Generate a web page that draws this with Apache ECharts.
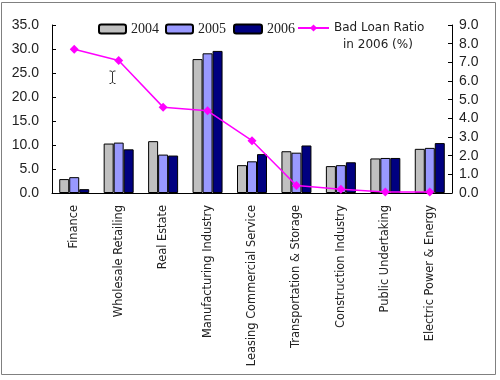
<!DOCTYPE html>
<html><head><meta charset="utf-8">
<script src="https://cdn.jsdelivr.net/npm/echarts@6/dist/echarts.min.js"></script>
<style>html,body{margin:0;padding:0;background:#fff}#c{width:500px;height:380px}</style>
</head><body><div id="c"></div>
<script>
var categories = ['Finance','Wholesale Retailing','Real Estate','Manufacturing Industry','Leasing Commercial Service','Transportation & Storage','Construction Industry','Public Undertaking','Electric Power & Energy'];
var values2004 = [2.9, 10.3, 10.8, 27.9, 5.8, 8.7, 5.6, 7.2, 9.2];
var values2005 = [3.3, 10.5, 8.0, 29.1, 6.6, 8.4, 5.8, 7.3, 9.4];
var values2006 = [0.8, 9.1, 7.8, 29.6, 8.1, 9.9, 6.4, 7.3, 10.4];
var badLoanRatio = [7.7, 7.1, 4.6, 4.4, 2.8, 0.4, 0.2, 0.05, 0.05];
var leftTicks = {min: 0, max: 35, interval: 5};
var rightTicks = {min: 0, max: 9, interval: 1};

var chart = echarts.init(document.getElementById('c'), null, {renderer: 'canvas'});
var sans = 'Liberation Sans';
function barSeries(name, data, color) {
  return {name: name, type: 'bar', data: data, barWidth: 10, barGap: '0%',
    itemStyle: {color: color, borderColor: '#000', borderWidth: 1}, z: 2};
}
var yearLegendText = {fontFamily: 'Liberation Serif', fontSize: 14, color: '#222'};
chart.setOption({
  animation: false,
  backgroundColor: '#fff',
  grid: {left: 52, right: 48, top: 25, bottom: 187, containLabel: false},
  legend: [
    {data: ['2004'], left: 98, top: 22, itemWidth: 27, itemHeight: 9, itemGap: 0, textStyle: yearLegendText, selectedMode: false, padding: 0},
    {data: ['2005'], left: 165, top: 22, itemWidth: 27, itemHeight: 9, textStyle: yearLegendText, selectedMode: false, padding: 0},
    {data: ['2006'], left: 233, top: 22, itemWidth: 28, itemHeight: 9, textStyle: yearLegendText, selectedMode: false, padding: 0},
    {data: ['Bad Loan Ratio'], left: 297, top: 22, itemWidth: 31, itemHeight: 9, textStyle: {fontFamily: 'DejaVu Sans', fontSize: 12, color: '#222'}, selectedMode: false, padding: 0}
  ],
  xAxis: {
    type: 'category', data: categories, boundaryGap: true,
    axisLine: {lineStyle: {color: '#000', width: 1}},
    axisTick: {inside: true, length: 4, lineStyle: {color: '#000'}},
    axisLabel: {rotate: 90, interval: 0, margin: 12, fontFamily: 'DejaVu Sans', fontSize: 11.4, color: '#222'}
  },
  yAxis: [
    {type: 'value', min: leftTicks.min, max: leftTicks.max, interval: leftTicks.interval,
      axisLine: {show: true, lineStyle: {color: '#000'}},
      axisTick: {show: true, inside: true, length: 4, lineStyle: {color: '#000'}},
      splitLine: {show: false},
      axisLabel: {margin: 13, fontFamily: sans, fontSize: 14, color: '#222', formatter: function(v){return v.toFixed(1);}}},
    {type: 'value', min: rightTicks.min, max: rightTicks.max, interval: rightTicks.interval, position: 'right',
      axisLine: {show: true, lineStyle: {color: '#000'}},
      axisTick: {show: true, inside: true, length: 4, lineStyle: {color: '#000'}},
      splitLine: {show: false},
      axisLabel: {margin: 7, fontFamily: sans, fontSize: 14, color: '#222', formatter: function(v){return v.toFixed(1);}}}
  ],
  series: [
    barSeries('2004', values2004, '#c0c0c0'),
    barSeries('2005', values2005, '#9999ff'),
    barSeries('2006', values2006, '#000080'),
    {name: 'Bad Loan Ratio', type: 'line', yAxisIndex: 1, data: badLoanRatio,
      symbol: 'diamond', symbolSize: 9, z: 5,
      lineStyle: {color: '#ff00ff', width: 1.5}, itemStyle: {color: '#ff00ff'}}
  ],
  graphic: [
    {type: 'rect', shape: {x: 1.5, y: 2.5, width: 494, height: 372}, style: {fill: null, stroke: '#808080', lineWidth: 1}, silent: true},
    {type: 'text', left: 343, top: 39, style: {text: 'in 2006 (%)', font: '12px "DejaVu Sans"', fill: '#222'}},
    {type: 'polyline', shape: {points: [[109.5,71],[111,71],[112.5,72],[112.5,82],[111,83.5],[109.5,83.5]]}, style: {stroke: '#333', fill: null, lineWidth: 1}},
    {type: 'polyline', shape: {points: [[115.5,71],[114,71],[112.5,72],[112.5,82],[114,83.5],[115.5,83.5]]}, style: {stroke: '#333', fill: null, lineWidth: 1}}
  ]
});
</script></body></html>
